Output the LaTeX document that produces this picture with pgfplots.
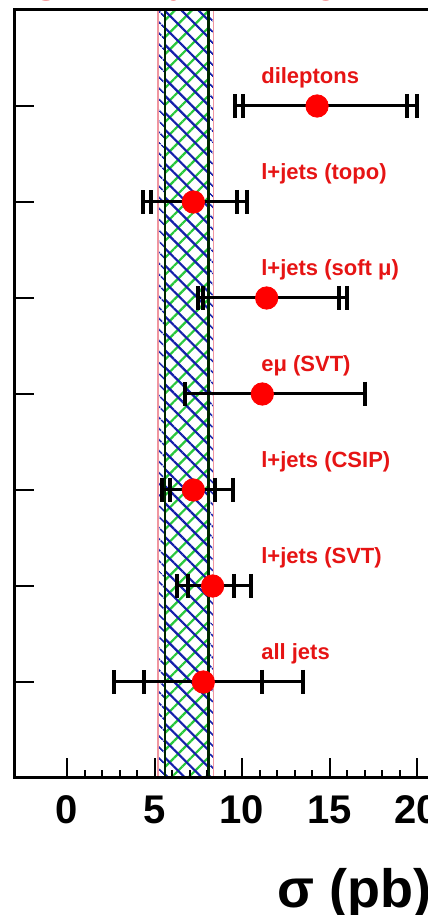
\documentclass[border=0pt]{standalone}
\usepackage{fontspec}
\setmainfont{Liberation Sans}
\usepackage{pgfplots}
\pgfplotsset{compat=1.18}
\usepackage{pgfplotstable}
\usetikzlibrary{patterns.meta}

\definecolor{hatchblue}{RGB}{20,30,170}
\definecolor{hatchgreen}{RGB}{40,200,60}
\definecolor{edgepink}{RGB}{240,150,160}
\definecolor{labelred}{RGB}{230,20,20}

% measurement: central value, total and statistical limits
\pgfplotstableread{
y val totlo statlo stathi tothi
7 14.29 9.60 10.06 19.41 19.98
6 7.22 4.36 4.78 9.70 10.27
5 11.41 7.50 7.79 15.56 15.98
4 11.16 6.74 6.74 17.03 17.03
3 7.22 5.41 5.89 8.46 9.50
2 8.32 6.30 6.93 9.54 10.50
1 7.79 2.69 4.40 11.12 13.50
}\meas

\begin{document}
\begin{tikzpicture}
\useasboundingbox (-7.25pt,-68.5pt) rectangle (206.75pt,389pt);
\clip (-7.25pt,-68.5pt) rectangle (206.75pt,389pt);
\begin{axis}[
  at={(0,0)}, anchor=south west,
  x=8.75pt, y=48pt,
  xmin=-3, xmax=22, ymin=0, ymax=8,
  axis line style={line width=1.5pt},
  tick style={line width=1pt, black},
  tick align=inside,
  xtick pos=bottom, ytick pos=left,
  xtick={0,5,10,15,20},
  minor x tick num=4,
  major tick length=10pt, minor tick length=4pt,
  ytick={1,...,7}, yticklabels={},
  /pgf/number format/assume math mode=true,
  xticklabel style={font=\fontsize{20}{24}\selectfont\bfseries, yshift=-5.5pt},
  axis on top,
]
% combined result: outer band
\addplot[draw=edgepink, line width=0.6pt, fill=white,
  postaction={pattern={Lines[angle=-45, distance=4pt, line width=1pt]}, pattern color=hatchblue}]
  coordinates {(5.2,0) (8.35,0) (8.35,8) (5.2,8)} -- cycle;
% combined result: inner band
\addplot[draw=none, fill=white,
  postaction={pattern={Lines[angle=45, distance=6pt, line width=1.1pt]}, pattern color=hatchgreen},
  postaction={pattern={Lines[angle=-45, distance=6pt, line width=1.1pt]}, pattern color=hatchblue}]
  coordinates {(5.6,0) (8.08,0) (8.08,8) (5.6,8)} -- cycle;
\addplot[black!85!green, line width=1.3pt] coordinates {(5.6,0) (5.6,8)};
\addplot[black!85!green, line width=1.3pt] coordinates {(8.08,0) (8.08,8)};

% total uncertainties
\addplot[draw=none, mark=none, forget plot,
  error bars/.cd, x dir=both, x explicit, error mark=|,
  error bar style={draw=black, line width=1.5pt},
  error mark options={draw=black, line width=2pt, mark size=6pt}]
  table[x=val, y=y,
    x error plus expr=\thisrow{tothi}-\thisrow{val},
    x error minus expr=\thisrow{val}-\thisrow{totlo}] {\meas};
% statistical uncertainties
\addplot[draw=none, mark=none, forget plot,
  error bars/.cd, x dir=both, x explicit, error mark=|,
  error bar style={draw=black, line width=1.5pt},
  error mark options={draw=black, line width=2pt, mark size=6pt}]
  table[x=val, y=y,
    x error plus expr=\thisrow{stathi}-\thisrow{val},
    x error minus expr=\thisrow{val}-\thisrow{statlo}] {\meas};
% central values
\addplot[only marks, mark=*, mark size=5.6pt, red, mark options={draw=red, fill=red}]
  table[x=val, y=y] {\meas};

\begin{scope}[every node/.style={anchor=west, text=labelred, font=\fontsize{11}{13}\selectfont\bfseries}]
\node at (axis cs:10.7,7.29) {dileptons};
\node at (axis cs:10.7,6.29) {l+jets (topo)};
\node at (axis cs:10.7,5.29) {l+jets (soft μ)};
\node at (axis cs:10.7,4.29) {eμ (SVT)};
\node at (axis cs:10.7,3.29) {l+jets (CSIP)};
\node at (axis cs:10.7,2.29) {l+jets (SVT)};
\node at (axis cs:10.7,1.29) {all jets};
\end{scope}
\end{axis}
\node[anchor=base west, font=\fontsize{27}{31}\selectfont\bfseries] at (128pt,-64.5pt) {σ (pb)};
\node[anchor=base west, text=labelred, font=\fontsize{22}{26}\selectfont\bfseries] at (4pt,388.8pt) {CDF Run II Preliminary};
\end{tikzpicture}
\end{document}
